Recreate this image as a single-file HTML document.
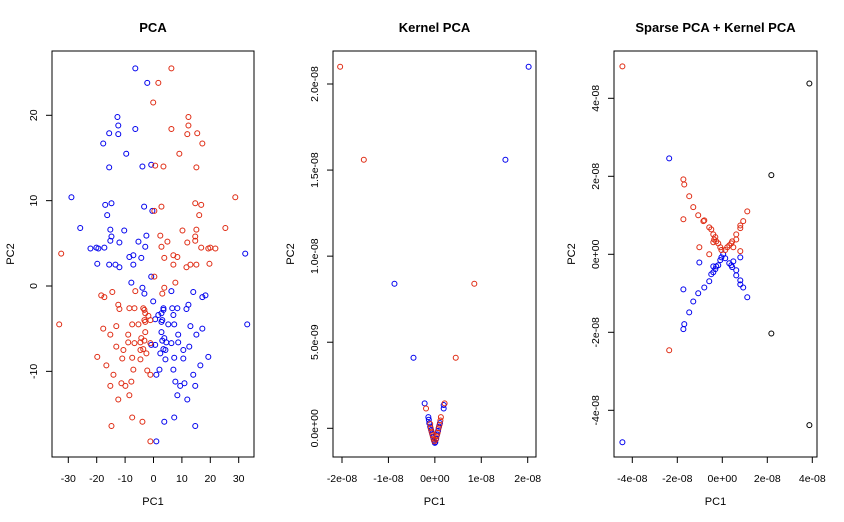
<!DOCTYPE html>
<html><head><meta charset="utf-8"><style>
html,body{margin:0;padding:0;background:#fff;}
svg{display:block;font-family:"Liberation Sans",Arial,sans-serif;}
</style></head><body>
<svg id="chart" width="844" height="522" viewBox="0 0 844 522" xmlns="http://www.w3.org/2000/svg"></svg>
<script>
// ---------- Panel 1: PCA ----------
const pcaBlueX=[-6.4,-2.2,-12.7,-12.4,-6.4,-15.6,-12.4,-17.7,-9.6,-15.6,-3.9,-0.8,-28.9,-17.0,-14.8,-3.3,-0.4,-16.3,-25.8,-15.2,-10.3,-14.8,-2.5,-15.2,-12.0,-5.3,-22.2,-20.1,-19.4,-17.3,-2.9,-8.5,-7.1,-4.3,32.3,-19.8,-15.6,-13.4,-12.0,-7.1,-0.8,
-7.8,-3.9,-3.2,6.3,14.0,17.2,18.3,-0.1,12.3,11.6,3.5,3.5,6.6,8.4,1.7,2.8,7.0,0.6,3.1,2.8,5.2,7.3,13.0,17.2,33.0,2.8,15.1,8.7,3.8,3.1,4.5,6.3,8.7,-0.8,0.6,12.6,3.5,4.2,10.5,2.4,7.3,10.5,19.3,4.2,16.5,2.1,7.0,1.0,14.0,7.7,9.4,10.9,14.7,8.4,11.9,7.3,3.8,14.7,1.0];
const pcaBlueY=[25.5,23.8,19.8,18.8,18.4,17.9,17.8,16.7,15.5,13.9,14.0,14.2,10.4,9.5,9.7,9.3,8.8,8.3,6.8,6.6,6.5,5.8,5.9,5.3,5.1,5.2,4.4,4.5,4.4,4.5,4.6,3.4,3.6,3.3,3.8,2.6,2.5,2.5,2.2,2.5,1.1,
0.4,-0.2,-0.9,-0.6,-0.7,-1.3,-1.1,-1.8,-2.2,-2.7,-2.6,-2.8,-2.6,-2.6,-3.4,-3.2,-3.4,-3.9,-4.0,-4.2,-4.5,-4.5,-4.7,-5.0,-4.5,-5.4,-5.7,-5.7,-6.1,-6.4,-6.6,-6.7,-6.6,-6.9,-6.9,-7.1,-7.4,-7.5,-7.5,-7.9,-8.4,-8.5,-8.3,-8.6,-9.3,-9.8,-9.8,-10.4,-10.4,-11.2,-11.7,-11.4,-11.7,-12.8,-13.3,-15.4,-15.9,-16.4,-18.2];
const pcaRedX=[6.3,1.7,-0.1,12.3,12.3,6.3,11.9,15.4,17.2,9.1,0.6,3.5,15.1,28.8,14.7,16.8,2.8,0.3,16.1,25.3,15.1,10.2,14.7,2.4,14.7,11.9,4.9,2.8,16.8,19.3,20.0,21.8,-32.5,3.8,7.0,8.4,7.0,13.0,15.1,11.6,19.7,0.3,
7.7,3.8,3.1,-6.4,-14.5,-18.4,-17.3,-12.4,-12.0,-8.5,-6.7,-3.6,-3.2,-2.9,-1.8,-1.1,-3.2,-2.9,-5.3,-7.5,-33.2,-13.1,-17.7,-2.9,-15.2,-8.9,-4.3,-4.6,-3.2,-6.7,-8.9,-1.1,-13.1,-3.6,-10.6,-4.6,-2.5,-19.8,-11.0,-7.5,-4.6,-16.6,-7.1,-2.2,-1.1,-14.1,-7.8,-11.3,-9.9,-15.2,-8.5,-12.4,-7.5,-3.9,-14.8,-1.1];
const pcaRedY=[25.5,23.8,21.5,19.8,18.8,18.4,17.8,17.9,16.7,15.5,14.1,14.0,13.9,10.4,9.7,9.5,9.3,8.8,8.3,6.8,6.6,6.5,5.8,5.9,5.3,5.1,5.2,4.6,4.5,4.4,4.5,4.4,3.8,3.3,3.6,3.4,2.5,2.5,2.5,2.2,2.6,1.1,
0.4,-0.2,-0.9,-0.6,-0.7,-1.1,-1.3,-2.2,-2.7,-2.6,-2.6,-2.6,-2.8,-3.2,-3.5,-4.0,-4.0,-4.2,-4.5,-4.5,-4.5,-4.7,-5.0,-5.4,-5.7,-5.7,-6.1,-6.6,-6.4,-6.7,-6.6,-6.7,-7.1,-7.4,-7.5,-7.5,-7.9,-8.3,-8.5,-8.4,-8.6,-9.3,-9.8,-9.9,-10.4,-10.4,-11.2,-11.4,-11.7,-11.7,-12.8,-13.3,-15.4,-15.9,-16.4,-18.2];
const pcaXTicks=[-30,-20,-10,0,10,20,30];
const pcaYTicks=[-10,0,10,20];

// ---------- Panel 2: Kernel PCA (units of 1e-9) ----------
const kpBlueX=[20.2,15.2,-8.7,-4.6,-2.2,1.9,1.9,-1.4,-1.3,-1.2,-1.0,-0.8,-0.6,-0.4,-0.2,0,1.1,0.9,0.7,0.5,0.3,0.1];
const kpBlueY=[21.0,15.6,8.4,4.1,1.45,1.35,1.15,0.65,0.5,0.3,0.1,-0.1,-0.3,-0.5,-0.7,-0.85,0.3,0.1,-0.15,-0.35,-0.6,-0.8];
const kpRedX=[-20.4,-15.3,8.5,4.5,-1.9,2.1,-1.0,-0.9,-0.7,-0.5,-0.3,-0.1,1.3,1.2,1.0,0.8,0.6,0.4,0.2];
const kpRedY=[21.0,15.6,8.4,4.1,1.15,1.45,0.25,0,-0.2,-0.4,-0.6,-0.75,0.65,0.45,0.2,0,-0.25,-0.45,-0.65];
const kpXTicks=[-20,-10,0,10,20];
const kpXLabels=["-2e-08","-1e-08","0e+00","1e-08","2e-08"];
const kpYTicks=[0,5,10,15,20];
const kpYLabels=["0.0e+00","5.0e-09","1.0e-08","1.5e-08","2.0e-08"];

// ---------- Panel 3: Sparse PCA + Kernel PCA (units of 1e-9) ----------
const spBlueX=[-44.4,-23.6,-10.2,-4.0,-2.7,-1.8,-3.1,-4.0,-4.9,-5.8,-8.0,-10.7,-17.3,-12.9,-14.7,-16.9,-17.3,-0.9,-0.4,8.0,4.9,3.1,4.0,4.4,6.2,6.2,8.0,8.0,9.3,11.1,1.3,0.4];
const spBlueY=[-48.2,24.6,-2.1,-3.1,-3.1,-2.8,-3.8,-4.6,-5.1,-6.9,-8.5,-10.0,-9.0,-12.1,-14.9,-17.9,-19.2,-1.5,-0.8,-0.8,-1.8,-2.3,-2.8,-3.3,-4.1,-5.4,-6.7,-7.7,-8.5,-11.0,-1.0,0];
const spRedX=[-44.4,-23.6,-17.3,-16.9,-14.7,-12.9,-10.7,-17.3,-8.4,-8.0,-5.8,-4.9,-4.0,-3.1,-3.6,-2.7,-4.0,-1.8,-0.9,-10.2,-5.8,-0.4,11.1,9.3,8.0,8.0,6.2,6.2,4.4,4.0,3.1,4.9,2.2,1.3,8.0];
const spRedY=[48.2,-24.6,19.2,17.9,14.9,12.1,10.0,9.0,8.5,8.7,6.9,6.4,5.1,4.4,3.8,3.3,3.1,2.8,1.8,1.8,0,1.1,11.0,8.5,7.4,6.7,5.1,3.8,3.3,2.8,2.3,1.8,1.8,1.1,0.8];
const spBlackX=[38.7,38.7,21.8,21.8];
const spBlackY=[43.8,-43.8,20.3,-20.3];
const spXTicks=[-40,-20,0,20,40];
const spXLabels=["-4e-08","-2e-08","0e+00","2e-08","4e-08"];
const spYTicks=[-40,-20,0,20,40];
const spYLabels=["-4e-08","-2e-08","0e+00","2e-08","4e-08"];

const NS="http://www.w3.org/2000/svg";
const svg=document.getElementById('chart');
function mk(tag,attrs,parent){const e=document.createElementNS(NS,tag);for(const k in attrs)e.setAttribute(k,attrs[k]);(parent||svg).appendChild(e);return e;}
function scale(d0,d1,r0,r1){return v=>r0+(v-d0)*(r1-r0)/(d1-d0);}

function panel(cfg){
  const g=mk('g',{});
  
  
  const sx=scale(cfg.xd[0],cfg.xd[1],cfg.xr[0],cfg.xr[1]);
  const sy=scale(cfg.yd[0],cfg.yd[1],cfg.yr[0],cfg.yr[1]);
  const b=cfg.box;
  const frame=mk('rect',{x:b[0],y:b[1],width:b[2]-b[0],height:b[3]-b[1],fill:'none',stroke:'#000','stroke-width':1},g);
  
  
  const t=mk('text',{x:(b[0]+b[2])/2,y:32,'text-anchor':'middle','font-size':'13px','font-weight':'bold'},g);
  t.textContent=cfg.title;
  
  
  const xt=mk('text',{x:(b[0]+b[2])/2,y:505,'text-anchor':'middle','font-size':'11px'},g);
  xt.textContent='PC1';
  
  
  const yt=mk('text',{x:0,y:0,'text-anchor':'middle','font-size':'11px',transform:`translate(${cfg.ytitleX},${(b[1]+b[3])/2}) rotate(-90)`},g);
  yt.textContent='PC2';
  
  
  const ax=mk('g',{},g);
  
  
  const xs=cfg.xticks.map(sx);
  mk('line',{x1:xs[0],x2:xs[xs.length-1],y1:b[3],y2:b[3],stroke:'#000'},ax);
  cfg.xticks.forEach((v,i)=>{
    const px=sx(v);
    mk('line',{x1:px,x2:px,y1:b[3],y2:b[3]+6,stroke:'#000'},ax);
    const l=mk('text',{x:px,y:482,'text-anchor':'middle','font-size':'10.5px'},ax);
    l.textContent=cfg.xlabels?cfg.xlabels[i]:String(v);
    
    
  });
  const ay=mk('g',{},g);
  
  
  cfg.yticks.forEach((v,i)=>{
    const py=sy(v);
    mk('line',{x1:b[0]-6,x2:b[0],y1:py,y2:py,stroke:'#000'},ay);
    const l=mk('text',{x:0,y:0,'text-anchor':'middle','font-size':'10.5px',transform:`translate(${b[0]-15},${py}) rotate(-90)`},ay);
    l.textContent=cfg.ylabels?cfg.ylabels[i]:String(v);
    
    
  });
  cfg.series.forEach(s=>{
    const sg=mk('g',{},g);
    
    
    s.x.forEach((v,i)=>{
      const c=mk('circle',{cx:sx(v),cy:sy(s.y[i]),r:2.5,fill:'none',stroke:s.color,'stroke-width':1},sg);
      
      
    });
  });
}
const RED='#df2a12', BLUE='#0000ee';
panel({name:'pca-panel',title:'PCA',box:[52,51,254,457],xd:[-30,30],xr:[68.3,238.7],yd:[0,20],yr:[286,115.3],
  xticks:pcaXTicks,yticks:pcaYTicks,ytitleX:14,
  series:[{name:'series-blue',x:pcaBlueX,y:pcaBlueY,color:BLUE},{name:'series-red',x:pcaRedX,y:pcaRedY,color:RED}]});
panel({name:'kernel-pca-panel',title:'Kernel PCA',box:[333,51,536,457],xd:[-20,20],xr:[342,527.7],yd:[0,20],yr:[428.3,84],
  xticks:kpXTicks,xlabels:kpXLabels,yticks:kpYTicks,ylabels:kpYLabels,ytitleX:294,
  series:[{name:'series-blue',x:kpBlueX,y:kpBlueY,color:BLUE},{name:'series-red',x:kpRedX,y:kpRedY,color:RED}]});
panel({name:'sparse-kernel-pca-panel',title:'Sparse PCA + Kernel PCA',box:[614,51,817,457],xd:[-40,40],xr:[632.3,812.3],yd:[-40,40],yr:[410.3,98.3],
  xticks:spXTicks,xlabels:spXLabels,yticks:spYTicks,ylabels:spYLabels,ytitleX:575,
  series:[{name:'series-blue',x:spBlueX,y:spBlueY,color:BLUE},{name:'series-red',x:spRedX,y:spRedY,color:RED},{name:'series-black',x:spBlackX,y:spBlackY,color:'#000'}]});
</script>
</body></html>
